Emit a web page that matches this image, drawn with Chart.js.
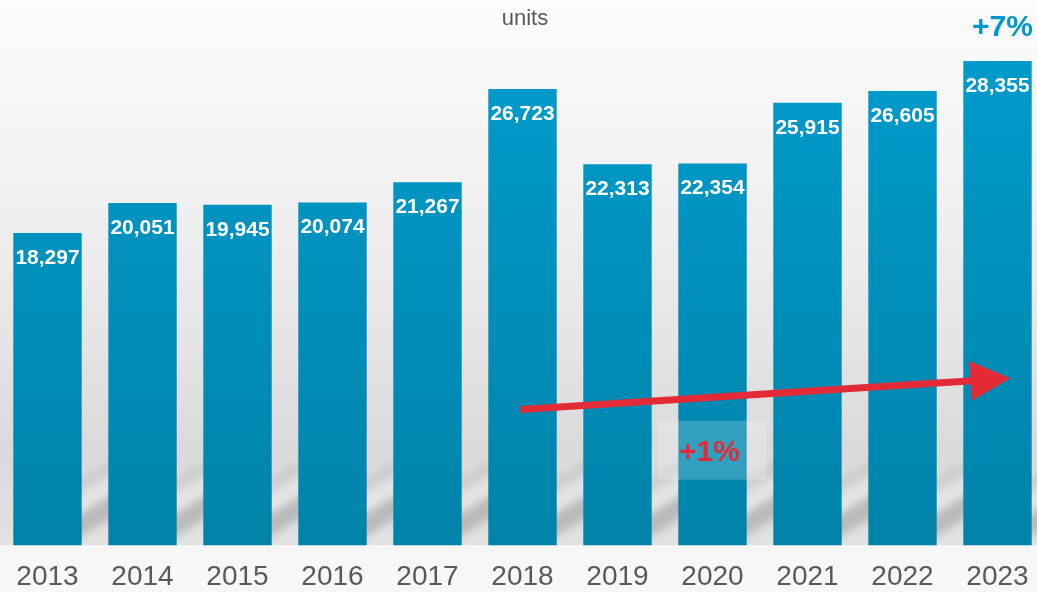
<!DOCTYPE html>
<html>
<head>
<meta charset="utf-8">
<script src="https://cdn.jsdelivr.net/npm/chart.js@4"></script>
<style>
  html, body { margin:0; padding:0; width:1037px; height:592px; overflow:hidden; background:#f7f7f7; }
  #wrap { position:absolute; left:0; top:0; width:1045px; height:592px; }
</style>
</head>
<body>
<div id="wrap"><canvas id="c" width="1045" height="592"></canvas></div>
<script>
const years = ['2013','2014','2015','2016','2017','2018','2019','2020','2021','2022','2023'];
const units = [18297, 20051, 19945, 20074, 21267, 26723, 22313, 22354, 25915, 26605, 28355];
const unitLabel = 'units';
const growthTotal = '+7%';
const growthAvg = '+1%';

const FONT = '"Liberation Sans", Arial, sans-serif';
const fmt = v => v.toLocaleString('en-US');

function para(ctx, x0, x1, yl, yr, h) {
  ctx.beginPath();
  ctx.moveTo(x0, yl);
  ctx.lineTo(x1, yr);
  ctx.lineTo(x1, yr + h);
  ctx.lineTo(x0, yl + h);
  ctx.closePath();
  ctx.fill();
}

const bgPlugin = {
  id: 'bg',
  beforeDraw(chart) {
    const { ctx, chartArea, width, height } = chart;
    const b = chartArea.bottom;
    ctx.save();
    const g = ctx.createLinearGradient(0, 0, 0, b);
    g.addColorStop(0, '#fcfcfc');
    g.addColorStop(0.35, '#f1f1f1');
    g.addColorStop(0.6, '#e6e6e6');
    g.addColorStop(0.82, '#dadada');
    g.addColorStop(1, '#e2e2e2');
    ctx.fillStyle = g;
    ctx.fillRect(0, 0, width, b);
    // soft diagonal shadows/reflections in the gaps near the floor
    const meta = chart.getDatasetMeta(0);
    ctx.filter = 'blur(4px)';
    for (let i = 0; i < meta.data.length; i++) {
      const bar = meta.data[i];
      const gx = bar.x + 47.5;
      const x0 = gx - 30, x1 = gx + 30;
      ctx.fillStyle = 'rgba(170,170,170,0.7)';
      para(ctx, x0, x1, b - 22, b - 58, 22);
      ctx.fillStyle = 'rgba(185,185,185,0.55)';
      para(ctx, x0, x1, b - 58, b - 92, 10);
      ctx.fillStyle = 'rgba(238,238,238,0.8)';
      para(ctx, x0, x1, b - 36, b - 72, 7);
    }
    ctx.filter = 'none';
    ctx.fillStyle = '#f7f7f7';
    ctx.fillRect(0, b, width, height - b);
    ctx.restore();
  }
};

const annoPlugin = {
  id: 'anno',
  afterDatasetsDraw(chart) {
    const { ctx } = chart;
    const xs = chart.scales.x, ys = chart.scales.y;
    const meta = chart.getDatasetMeta(0);
    ctx.save();
    // value labels
    ctx.fillStyle = '#ffffff';
    ctx.font = 'bold 21px ' + FONT;
    ctx.textAlign = 'center';
    ctx.textBaseline = 'middle';
    meta.data.forEach((bar, i) => {
      ctx.fillText(fmt(units[i]), bar.x, bar.y + 25);
    });
    // +1% box
    const bx = xs.getPixelForValue(7);
    ctx.fillStyle = 'rgba(255,255,255,0.2)';
    ctx.fillRect(bx - 54, ys.getPixelForValue(7300), 108, 59);
    ctx.fillStyle = '#e32b37';
    ctx.font = 'bold 30px ' + FONT;
    ctx.fillText(growthAvg, bx - 3, ys.getPixelForValue(5450));
    // arrow
    const sx = xs.getPixelForValue(5) - 2, sy = ys.getPixelForValue(7950);
    const tx = xs.getPixelForValue(10) + 13, ty = ys.getPixelForValue(9780);
    const ang = Math.atan2(ty - sy, tx - sx);
    const headLen = 40, headHalf = 20;
    const hbx = tx - headLen * Math.cos(ang), hby = ty - headLen * Math.sin(ang);
    ctx.strokeStyle = '#e32b37';
    ctx.lineWidth = 7;
    ctx.beginPath();
    ctx.moveTo(sx, sy);
    ctx.lineTo(hbx + 2 * Math.cos(ang), hby + 2 * Math.sin(ang));
    ctx.stroke();
    ctx.fillStyle = '#e32b37';
    ctx.beginPath();
    ctx.moveTo(tx, ty);
    ctx.lineTo(hbx - headHalf * Math.sin(ang), hby + headHalf * Math.cos(ang));
    ctx.lineTo(hbx + headHalf * Math.sin(ang), hby - headHalf * Math.cos(ang));
    ctx.closePath();
    ctx.fill();
    // +7%
    ctx.fillStyle = '#0099cc';
    ctx.font = 'bold 30px ' + FONT;
    ctx.fillText(growthTotal, xs.getPixelForValue(10) + 5, 28);
    // units
    ctx.fillStyle = '#595959';
    ctx.font = '22px ' + FONT;
    ctx.fillText(unitLabel, 525, 19);
    ctx.restore();
  }
};

const ctx = document.getElementById('c').getContext('2d');
new Chart(ctx, {
  type: 'bar',
  data: {
    labels: years,
    datasets: [{
      data: units,
      backgroundColor(c) {
        const area = c.chart.chartArea;
        if (!area) return '#0093c3';
        const g = c.chart.ctx.createLinearGradient(0, area.top, 0, area.bottom);
        g.addColorStop(0, '#009ccd');
        g.addColorStop(1, '#0083a9');
        return g;
      },
      borderWidth: 0,
      barPercentage: 0.72,
      categoryPercentage: 1.0
    }]
  },
  options: {
    responsive: false,
    animation: false,
    devicePixelRatio: 1,
    layout: { padding: { top: 33, left: 0, right: 0, bottom: -17 } },
    plugins: { legend: { display: false }, tooltip: { enabled: false }, title: { display: false } },
    scales: {
      x: {
        grid: { display: false, drawTicks: false },
        border: { display: false },
        ticks: { color: '#595959', font: { family: FONT, size: 28, lineHeight: 1.2 }, padding: 15, maxRotation: 0 }
      },
      y: {
        display: false,
        min: 0,
        max: 30000
      }
    }
  },
  plugins: [bgPlugin, annoPlugin]
});
</script>
</body>
</html>
